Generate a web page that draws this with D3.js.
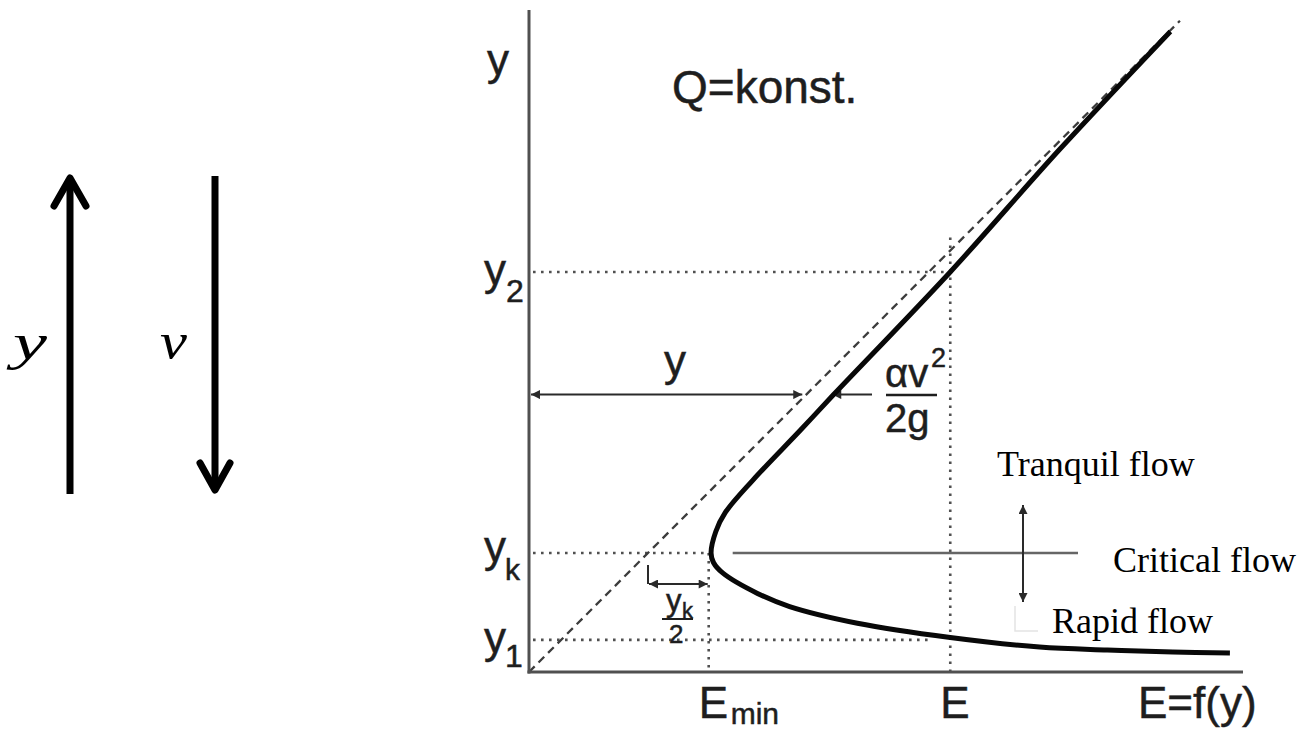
<!DOCTYPE html>
<html>
<head>
<meta charset="utf-8">
<script src="https://cdn.jsdelivr.net/npm/d3@7"></script>
<style>
  html, body { margin: 0; padding: 0; background: #fff; }
  svg { display: block; }
  .sans { font-family: "Liberation Sans", Arial, Helvetica, sans-serif; fill: #1e1e1e; stroke: #1e1e1e; stroke-width: 0.5; }
  .serif { font-family: "Liberation Serif", "Times New Roman", serif; fill: #000; }
</style>
</head>
<body>
<svg id="chart" width="1307" height="729"></svg>
<script>
// Specific energy curve E = f(y) for constant discharge, points as (E, y)
const curveE = [5.39, 4.46, 3.54, 2.56, 2.28, 1.88, 1.65, 1.57, 1.53, 1.55, 1.63, 1.92, 2.19, 2.76, 3.54, 4.29, 4.86, 5.41, 5.89];
const curveY = [5.38, 4.39, 3.36, 2.33, 2.03, 1.61, 1.34, 1.18, 1.00, 0.92, 0.83, 0.66, 0.55, 0.41, 0.29, 0.21, 0.185, 0.168, 0.16];

// Characteristic depths and energies
const levelNames = ["y2", "yk", "y1"];
const levelValues = [3.36, 1.00, 0.27];
const energyNames = ["Emin", "E"];
const energyValues = [1.51, 3.54];
const depthArrowLevel = 2.33;     // level of the y / αv²/2g arrows
const energyLineTop = 3.65;       // top of the dotted E line
const bisectorEnd = 5.47;         // end of the E = y line

// Text
const axisTitles = ["y", "E=f(y)"];
const flowLabels = ["Tranquil flow", "Critical flow", "Rapid flow"];
const titleText = "Q=konst.";

const svg = d3.select("#chart");

const x = d3.scaleLinear().domain([0, 6]).range([529, 1243]);
const y = d3.scaleLinear().domain([0, 5.56]).range([672, 10]);

const grey = "#505050";

// arrowhead markers
const defs = svg.append("defs");
defs.append("marker")
  .attr("id", "head").attr("viewBox", "0 0 10 10")
  .attr("refX", 10).attr("refY", 5)
  .attr("markerWidth", 13).attr("markerHeight", 9)
  .attr("markerUnits", "userSpaceOnUse")
  .attr("orient", "auto-start-reverse")
  .append("path").attr("d", "M0,0 L10,5 L0,10 Z").attr("fill", "#2a2a2a");

// ---- dotted reference lines ----
const dotted = svg.append("g")
  .attr("stroke", grey).attr("stroke-width", 2.6)
  .attr("stroke-dasharray", "2.6,5.4").attr("fill", "none");

const lvl = Object.fromEntries(levelNames.map((n, i) => [n, levelValues[i]]));
const en = Object.fromEntries(energyNames.map((n, i) => [n, energyValues[i]]));

// horizontal levels
dotted.append("line").attr("x1", x(0) + 4).attr("x2", x(en.E)).attr("y1", y(lvl.y2)).attr("y2", y(lvl.y2));
dotted.append("line").attr("x1", x(0) + 4).attr("x2", x(en.Emin)).attr("y1", y(lvl.yk)).attr("y2", y(lvl.yk));
dotted.append("line").attr("x1", x(0) + 4).attr("x2", x(3.36)).attr("y1", y(lvl.y1)).attr("y2", y(lvl.y1));
// vertical energies
dotted.append("line").attr("x1", x(en.Emin)).attr("x2", x(en.Emin)).attr("y1", y(lvl.yk)).attr("y2", y(0));
dotted.append("line").attr("x1", x(en.E)).attr("x2", x(en.E)).attr("y1", y(energyLineTop)).attr("y2", y(0));

// ---- E = y bisector ----
svg.append("line")
  .attr("x1", x(0)).attr("y1", y(0))
  .attr("x2", x(bisectorEnd)).attr("y2", y(bisectorEnd))
  .attr("stroke", "#3c3c3c").attr("stroke-width", 2.3)
  .attr("stroke-dasharray", "8,5.5");

// ---- axes ----
svg.append("line").attr("x1", x(0)).attr("x2", x(0)).attr("y1", y(0) + 1.5).attr("y2", y(5.56))
  .attr("stroke", grey).attr("stroke-width", 3);
svg.append("line").attr("x1", x(0) - 1.5).attr("x2", x(6)).attr("y1", y(0)).attr("y2", y(0))
  .attr("stroke", grey).attr("stroke-width", 3);

// ---- critical flow line and regime arrow ----
svg.append("line")
  .attr("x1", x(en.Emin) + 24).attr("x2", 1078)
  .attr("y1", y(lvl.yk)).attr("y2", y(lvl.yk))
  .attr("stroke", "#666").attr("stroke-width", 2.4);

svg.append("line")
  .attr("x1", 1023).attr("x2", 1023).attr("y1", 505).attr("y2", 602)
  .attr("stroke", "#2a2a2a").attr("stroke-width", 2)
  .attr("marker-start", "url(#head)").attr("marker-end", "url(#head)");

// faint box corner near the rapid-flow label
svg.append("path")
  .attr("d", "M1015,606 L1015,631 L1038,631")
  .attr("fill", "none").attr("stroke", "#e4e4e4").attr("stroke-width", 1.5);

// ---- depth y and velocity head arrows ----
svg.append("line")
  .attr("x1", x(0) + 2).attr("x2", x(depthArrowLevel) - 4)
  .attr("y1", y(depthArrowLevel)).attr("y2", y(depthArrowLevel))
  .attr("stroke", "#2a2a2a").attr("stroke-width", 2)
  .attr("marker-start", "url(#head)").attr("marker-end", "url(#head)");
svg.append("line")
  .attr("x1", 872).attr("x2", x(depthArrowLevel) + 26)
  .attr("y1", y(depthArrowLevel)).attr("y2", y(depthArrowLevel))
  .attr("stroke", "#2a2a2a").attr("stroke-width", 2)
  .attr("marker-end", "url(#head)");

// yk/2 arrow with its reference tick
const yArrow = 584;
svg.append("path")
  .attr("d", `M${x(lvl.yk)},565 L${x(lvl.yk)},${yArrow}`)
  .attr("stroke", "#2a2a2a").attr("stroke-width", 2).attr("fill", "none");
svg.append("line")
  .attr("x1", x(lvl.yk) + 1).attr("x2", x(en.Emin) - 1)
  .attr("y1", yArrow).attr("y2", yArrow)
  .attr("stroke", "#2a2a2a").attr("stroke-width", 2)
  .attr("marker-start", "url(#head)").attr("marker-end", "url(#head)");

// ---- energy curve ----
const pts = curveE.map((e, i) => [e, curveY[i]]);
svg.append("path")
  .datum(pts)
  .attr("d", d3.line().x(d => x(d[0])).y(d => y(d[1])).curve(d3.curveCatmullRom.alpha(0.5)))
  .attr("fill", "none").attr("stroke", "#080808")
  .attr("stroke-width", 5).attr("stroke-linecap", "butt");

// ---- labels ----
const T = svg.append("g");
function sans(txt, px, py, size, anchor) {
  return T.append("text").attr("class", "sans").attr("x", px).attr("y", py)
    .attr("font-size", size).attr("text-anchor", anchor || "start").text(txt);
}
function serif(txt, px, py, size) {
  return T.append("text").attr("class", "serif").attr("x", px).attr("y", py)
    .attr("font-size", size).text(txt);
}

// axis titles
sans(axisTitles[0], 487, 75, 44);
sans(axisTitles[1], 1138, 718, 44);
sans(titleText, 672, 103, 46);

// level labels on the y axis
sans("y", 484, y(lvl.y2) + 13, 44);  sans("2", 506, y(lvl.y2) + 30, 32);
sans("y", 484, y(lvl.yk) + 9, 44);   sans("k", 505, y(lvl.yk) + 27, 30);
sans("y", 484, y(lvl.y1) + 13, 44);  sans("1", 505, y(lvl.y1) + 27, 32);

// energy labels on the x axis
sans("E", x(en.Emin) - 10, 718, 44); sans("min", x(en.Emin) + 22, 724, 30);
sans("E", x(en.E) - 10, 718, 44);

// depth label
sans("y", 664, 376, 44);

// velocity head fraction αv²/2g
sans("αv", 885, 387, 40);
sans("2", 931, 367, 27);
svg.append("line").attr("x1", 886).attr("x2", 937).attr("y1", 395).attr("y2", 395)
  .attr("stroke", "#1e1e1e").attr("stroke-width", 2.6);
sans("2g", 885, 432, 40);

// yk/2 fraction
sans("y", 666, 611, 31);
sans("k", 682, 618, 22);
svg.append("line").attr("x1", 662).attr("x2", 693).attr("y1", 619).attr("y2", 619)
  .attr("stroke", "#1e1e1e").attr("stroke-width", 2);
sans("2", 669, 643, 26);

// flow regime labels
serif(flowLabels[0], 997, 476, 36);
serif(flowLabels[1], 1113, 572, 36);
serif(flowLabels[2], 1052, 633, 36);

// ---- direction arrows: depth increases, velocity decreases ----
const A = svg.append("g").attr("stroke", "#000").attr("stroke-width", 7)
  .attr("fill", "none").attr("stroke-linejoin", "round");
A.append("line").attr("x1", 70).attr("x2", 70).attr("y1", 494).attr("y2", 178);
A.append("path").attr("d", "M54,206 L70,178 L86,206").attr("stroke-linecap", "round");
A.append("line").attr("x1", 215).attr("x2", 215).attr("y1", 176).attr("y2", 490);
A.append("path").attr("d", "M200,463 L215,490 L230,463").attr("stroke-linecap", "round");

T.append("text").attr("x", 13).attr("y", 359)
  .attr("font-family", "'Liberation Serif', 'DejaVu Serif', serif")
  .attr("font-style", "italic").attr("font-size", 50).attr("fill", "#000")
  .attr("textLength", 34).attr("lengthAdjust", "spacingAndGlyphs").text("y");
T.append("text").attr("x", 160).attr("y", 358)
  .attr("font-family", "'Liberation Serif', 'DejaVu Serif', serif")
  .attr("font-style", "italic").attr("font-size", 50).attr("fill", "#000")
  .attr("textLength", 27).attr("lengthAdjust", "spacingAndGlyphs").text("v");
</script>
</body>
</html>
